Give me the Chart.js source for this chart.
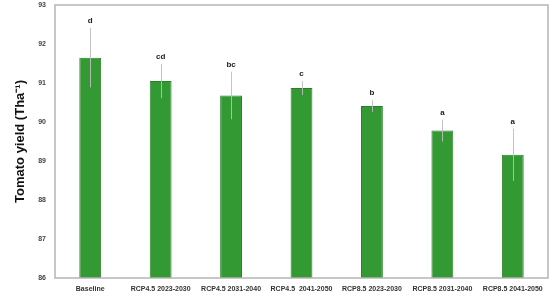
<!DOCTYPE html>
<html><head><meta charset="utf-8">
<script src="https://cdn.jsdelivr.net/npm/chart.js@4/dist/chart.umd.min.js"></script>
<style>html,body{margin:0;padding:0;background:#fff}#wrap{width:550px;height:295px}</style>
</head><body><div id="wrap"><canvas id="c"></canvas></div>
<script>
const categories = ["Baseline","RCP4.5 2023-2030","RCP4.5 2031-2040","RCP4.5  2041-2050","RCP8.5 2023-2030","RCP8.5 2031-2040","RCP8.5 2041-2050"];
const yieldMeans = [91.65, 91.05, 90.68, 90.87, 90.41, 89.78, 89.16];
const yieldErrors = [0.76, 0.44, 0.61, 0.18, 0.15, 0.28, 0.67];
const groupLetters = ["d","cd","bc","c","b","a","a"];
const yTicks = [86,87,88,89,90,91,92,93];

const FONT = "'Liberation Sans', Arial, sans-serif";

const extras = {
  id: 'extras',
  afterDatasetsDraw(chart) {
    const ctx = chart.ctx, y = chart.scales.y, meta = chart.getDatasetMeta(0);
    ctx.save();
    meta.data.forEach((bar, i) => {
      const x = bar.x;
      const top = y.getPixelForValue(yieldMeans[i] + yieldErrors[i]);
      const bot = y.getPixelForValue(yieldMeans[i] - yieldErrors[i]);
      ctx.strokeStyle = 'rgba(190,190,190,0.9)';
      ctx.lineWidth = 1;
      ctx.beginPath(); ctx.moveTo(Math.round(x)+0.5, top); ctx.lineTo(Math.round(x)+0.5, bot); ctx.stroke();
      ctx.fillStyle = '#222';
      ctx.font = 'bold 8px ' + FONT;
      ctx.textAlign = 'center'; ctx.textBaseline = 'alphabetic';
      ctx.fillText(groupLetters[i], x, top - 5);
    });
    const a = chart.chartArea;
    ctx.strokeStyle = '#b5b5b5'; ctx.lineWidth = 1.5;
    ctx.strokeRect(a.left, a.top, a.right - a.left, a.bottom - a.top);
    ctx.restore();
  }
};

new Chart(document.getElementById('c'), {
  type: 'bar',
  data: { labels: categories, datasets: [{
    data: yieldMeans, backgroundColor: '#339933', borderColor: '#2b7f2b', borderWidth: 1,
    categoryPercentage: 1, barPercentage: 0.31
  }]},
  options: {
    responsive: true, maintainAspectRatio: false, animation: false,
    layout: { padding: { left: 0, top: 5, right: 2, bottom: 0 } },
    plugins: { legend: { display: false }, tooltip: { enabled: false } },
    scales: {
      x: {
        grid: { display: false, drawTicks: false }, border: { display: false },
        ticks: { font: { family: FONT, size: 7, weight: 'bold' }, color: '#333', padding: 7, maxRotation: 0, autoSkip: false },
        afterFit(s) { s.height = 17; }
      },
      y: {
        min: 86, max: 93,
        afterBuildTicks(s) { s.ticks = yTicks.map(v => ({ value: v })); },
        grid: { display: true, drawOnChartArea: false, drawTicks: true, tickLength: 9, tickColor: 'rgba(0,0,0,0)' },
        border: { display: false },
        ticks: { font: { family: FONT, size: 7, weight: 'bold' }, color: '#444', padding: 0 },
        title: { display: true, text: 'Tomato yield (Tha⁻¹)', font: { family: FONT, size: 13, weight: 'bold' }, color: '#111', padding: { top: 13, bottom: 0 } },
        afterFit(s) { s.width = 55; }
      }
    }
  },
  plugins: [extras]
});
</script></body></html>
